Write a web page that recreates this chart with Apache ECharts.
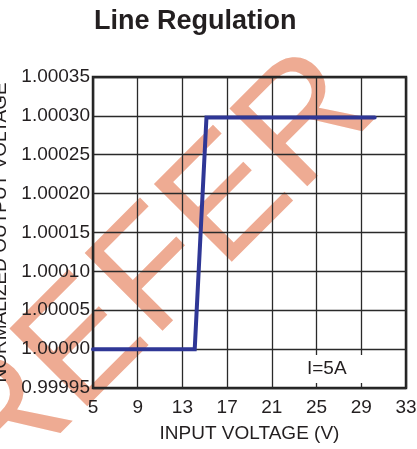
<!DOCTYPE html>
<html>
<head>
<meta charset="utf-8">
<script src="https://cdn.jsdelivr.net/npm/echarts@6/dist/echarts.min.js"></script>
<style>
  html, body { margin: 0; padding: 0; background: #fff; }
  #main { width: 417px; height: 449px; }
</style>
</head>
<body>
<div id="main"></div>
<script>
// input voltage (V) and normalized output voltage
var inputVoltage = [5, 14.1, 15.15, 30.2];
var outputNorm = [1.00000, 1.00000, 1.000298, 1.000298];
var xTicks = [5, 33, 4];             // min, max, step
var yTicks = [0.99995, 1.00035, 0.00005];

var txt = '#231f20';
var font = '"Liberation Sans", Arial, sans-serif';

var myChart = echarts.init(document.getElementById('main'));

var pts = [];
for (var i = 0; i < inputVoltage.length; i++) {
	pts.push([inputVoltage[i], outputNorm[i]]);
}

var option = {
	animation: false,
	backgroundColor: '#fff',
	title: {
		text: 'Line Regulation',
		left: 94,
		top: 8,
		padding: 0,
		textStyle: { fontFamily: font, fontSize: 27, fontWeight: 'bold', color: txt }
	},
	grid: {
		left: 93, right: 11, top: 77, bottom: 61,
		outerBoundsMode: 'none',
		containLabel: false,
		show: true,
		borderColor: '#222',
		borderWidth: 2.5,
		backgroundColor: 'transparent'
	},
	xAxis: {
		type: 'value',
		min: xTicks[0], max: xTicks[1], interval: xTicks[2],
		name: 'INPUT VOLTAGE (V)',
		nameLocation: 'middle',
		nameGap: 36,
		nameTextStyle: { fontFamily: font, fontSize: 19, color: txt },
		axisLine: { show: false },
		axisTick: { show: false },
		axisLabel: { fontFamily: font, fontSize: 19, color: txt, margin: 10 },
		splitLine: { show: true, lineStyle: { color: '#2a2a2a', width: 1.3 } }
	},
	yAxis: {
		type: 'value',
		min: yTicks[0], max: yTicks[1], interval: yTicks[2],
		name: 'NORMALIZED OUTPUT VOLTAGE',
		nameLocation: 'middle',
		nameGap: 75,
		nameTextStyle: { fontFamily: font, fontSize: 19, color: txt },
		axisLine: { show: false },
		axisTick: { show: false },
		axisLabel: {
			fontFamily: font, fontSize: 19, color: txt, margin: 3,
			formatter: function (v) { return v.toFixed(5); }
		},
		splitLine: { show: true, lineStyle: { color: '#2a2a2a', width: 1.3 } }
	},
	graphic: [
		{
			// watermark behind the plot
			type: 'text',
			z: -10,
			x: -35, y: 466,
			rotation: Math.PI / 4,
			silent: true,
			style: {
				text: 'REFER',
				font: 'normal 160px ' + font,
				fill: '#eeab93',
				align: 'left',
				verticalAlign: 'middle'
			}
		},
		{
			type: 'rect',
			z: 100,
			shape: { x: 303, y: 355, width: 63, height: 28 },
			style: { fill: '#fff' }
		},
		{
			type: 'text',
			z: 101,
			x: 307, y: 369,
			style: {
				text: 'I=5A',
				font: 'normal 19px ' + font,
				fill: txt,
				verticalAlign: 'middle'
			}
		}
	],
	series: [
		{
			type: 'line',
			data: pts,
			symbol: 'none',
			z: 50,
			lineStyle: { color: '#2f3796', width: 4, cap: 'round', join: 'miter' }
		}
	]
};

myChart.setOption(option);
</script>
</body>
</html>
